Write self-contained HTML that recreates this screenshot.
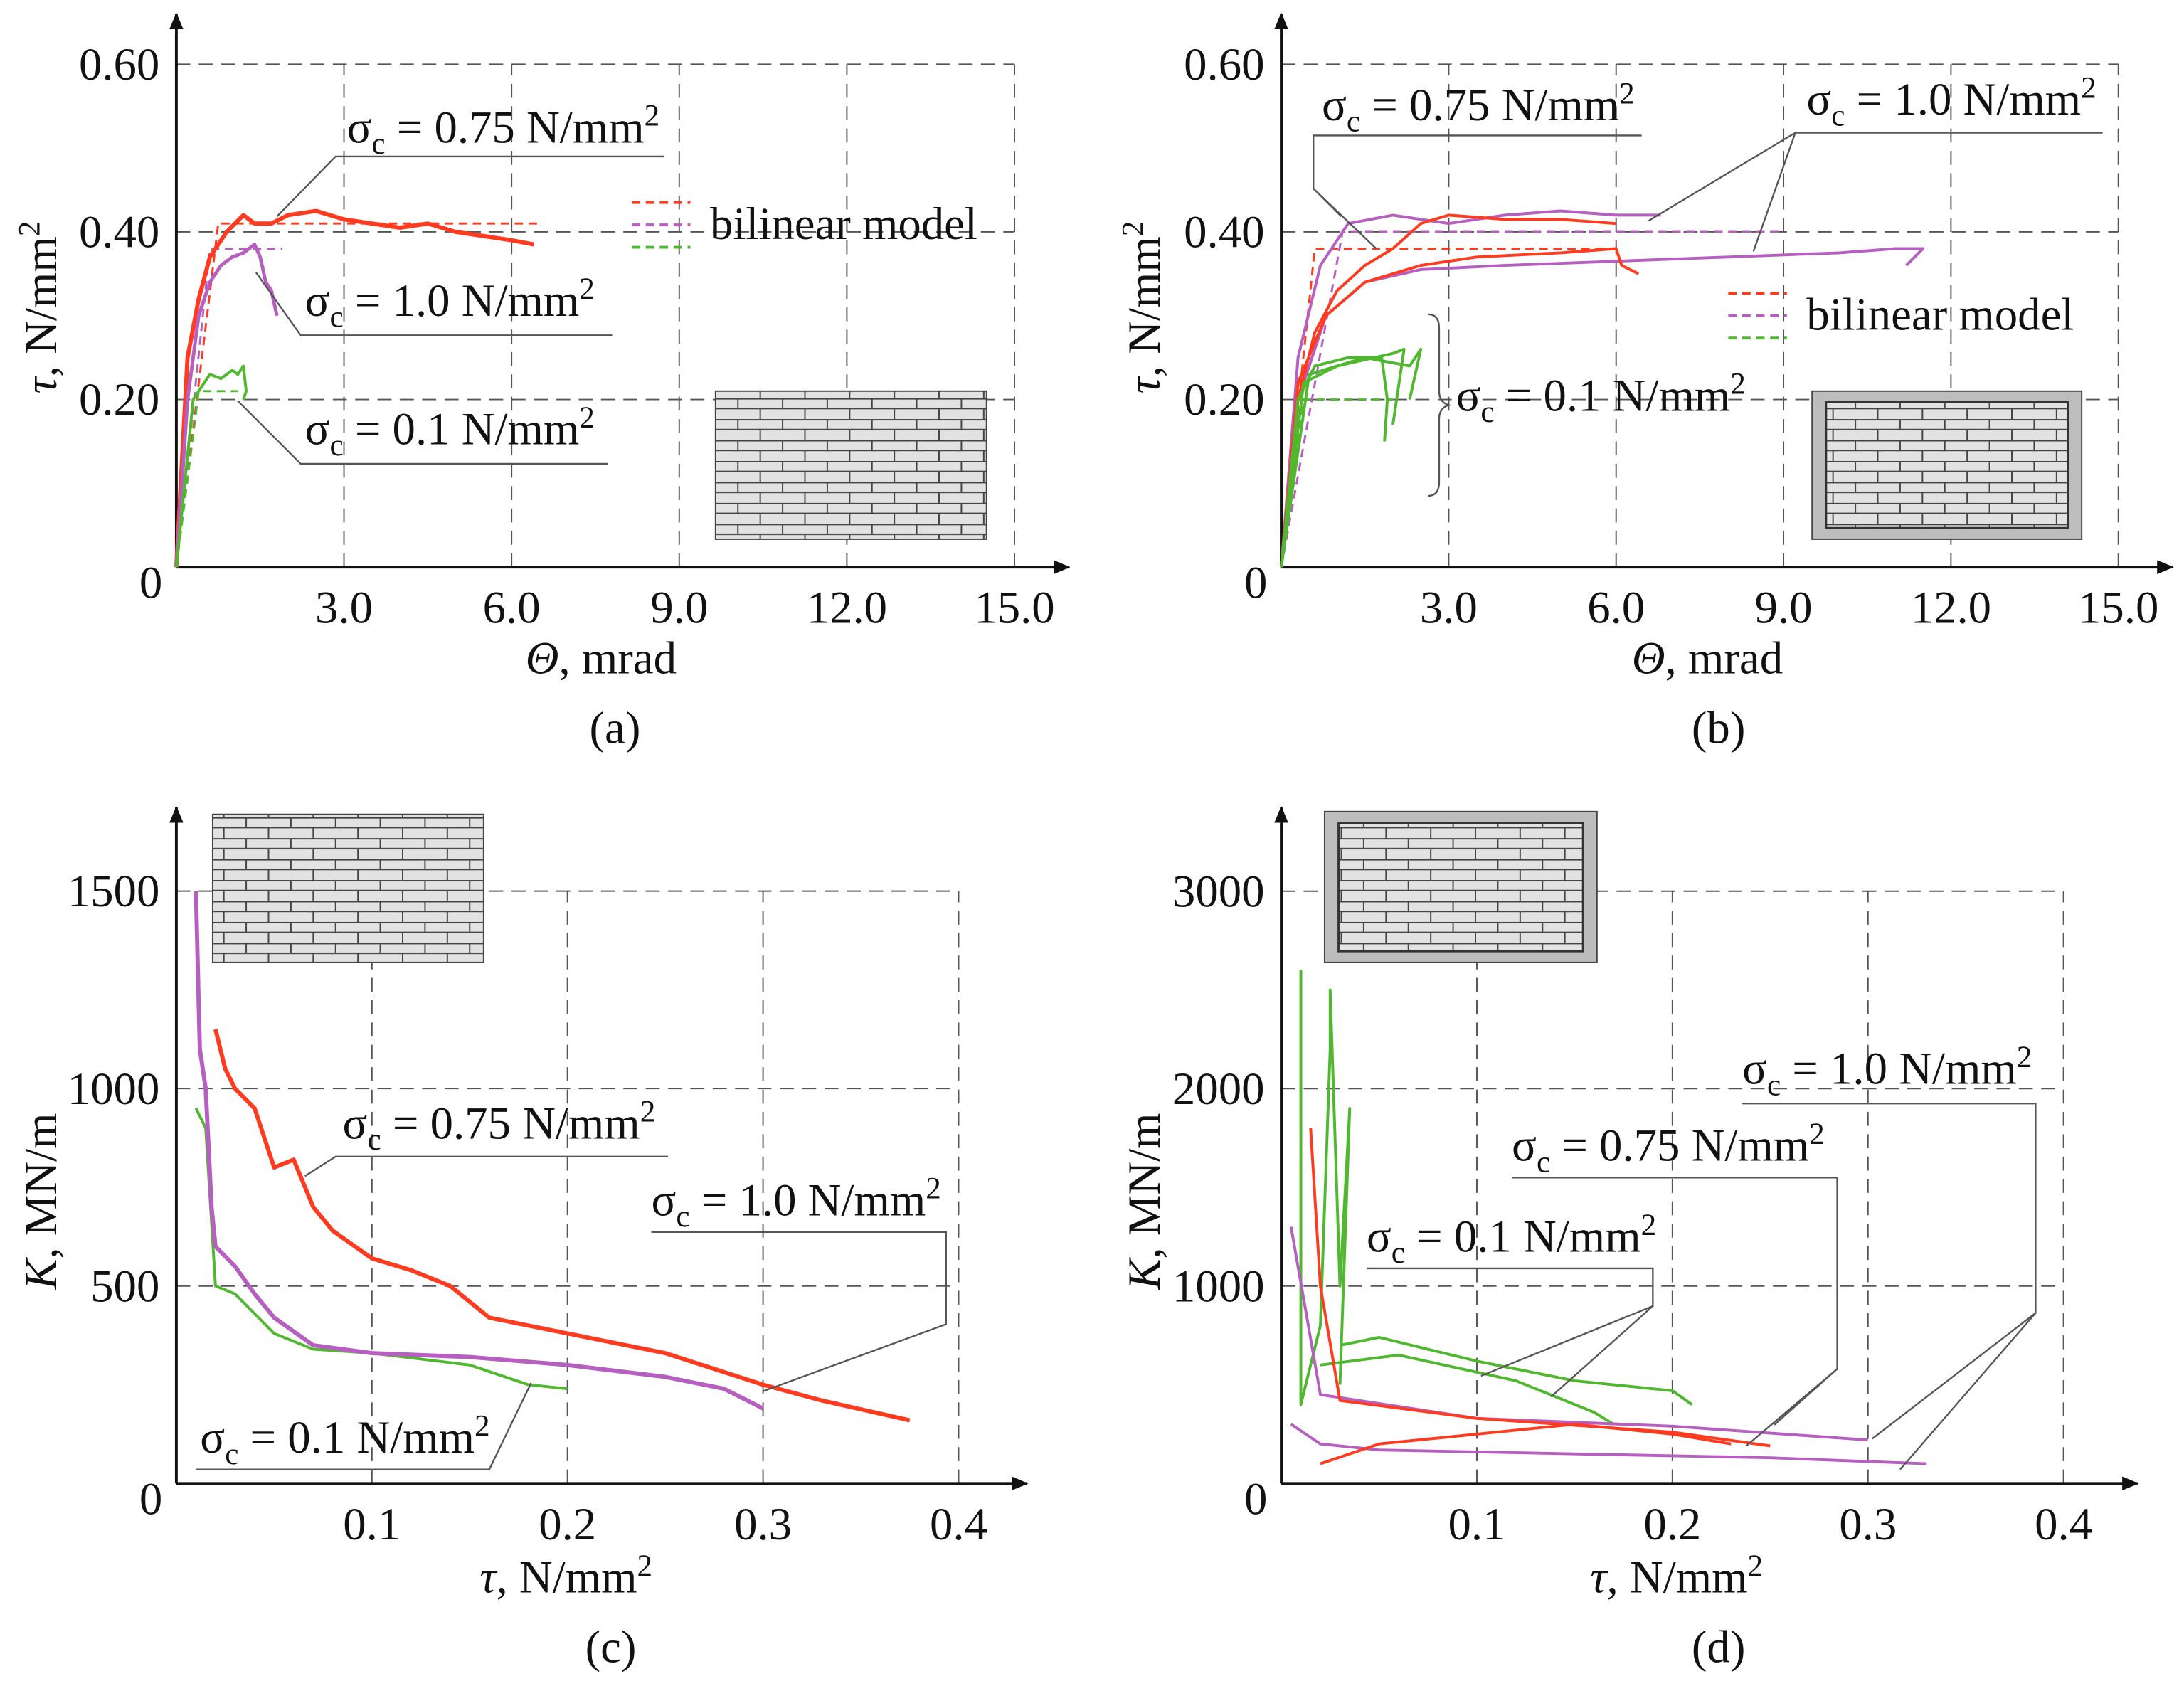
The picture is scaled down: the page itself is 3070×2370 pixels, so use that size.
<!DOCTYPE html>
<html><head><meta charset="utf-8">
<style>
html,body{margin:0;padding:0;background:#fff}
svg{display:block}
text{font-family:"Liberation Serif",serif;fill:#111}
</style></head>
<body>
<svg id="fig" width="3070" height="2370" viewBox="0 0 1563 1207" xmlns="http://www.w3.org/2000/svg">
<defs>
<pattern id="brick" width="32" height="15" patternUnits="userSpaceOnUse">
<rect width="32" height="15" fill="#e2e2e2"/>
<path d="M0 0.5H32M0 7.5H32M16 0V7.5M0 7.5V15M32 7.5V15" stroke="#444" stroke-width="1" fill="none"/>
</pattern>
<marker id="arr" markerWidth="12" markerHeight="10" refX="11" refY="5" orient="auto" markerUnits="userSpaceOnUse"><path d="M0 0L12 5L0 10Z" fill="#111"/></marker>
</defs>
<g id="root"></g>
</svg>
<script>
// ---- data arrays ----
const aXTicks=[3.0,6.0,9.0,12.0,15.0], aYTicks=[0.20,0.40,0.60];
const cXTicks=[0.1,0.2,0.3,0.4], cYTicks=[500,1000,1500], dYTicks=[1000,2000,3000];
const aRedTheta=[0,0.2,0.4,0.6,0.9,1.2,1.4,1.7,2.0,2.5,3.0,3.5,4.0,4.5,5.0,5.5,6.0,6.4];
const aRedTau=[0,0.25,0.32,0.37,0.40,0.42,0.41,0.41,0.42,0.425,0.415,0.41,0.405,0.41,0.40,0.395,0.39,0.385];
const aPurTheta=[0,0.2,0.4,0.6,0.8,1.0,1.2,1.4,1.5,1.6,1.7,1.8];
const aPurTau=[0,0.2,0.3,0.34,0.36,0.37,0.375,0.385,0.37,0.34,0.33,0.30];
const aGrnTheta=[0,0.3,0.5,0.6,0.8,1.0,1.1,1.2,1.25,1.2];
const aGrnTau=[0,0.2,0.22,0.23,0.225,0.235,0.23,0.24,0.21,0.2];
const aBiRed=[[0,0],[0.75,0.41],[6.5,0.41]], aBiPur=[[0,0],[0.6,0.38],[1.9,0.38]], aBiGrn=[[0,0],[0.4,0.21],[1.1,0.21]];
const bRed1=[[0,0],[0.3,0.2],[0.6,0.28],[1,0.33],[1.5,0.36],[2,0.38],[2.5,0.41],[3,0.42],[4,0.415],[5,0.415],[6,0.41]];
const bRed2=[[0,0],[0.3,0.22],[0.8,0.3],[1.5,0.34],[2.5,0.36],[3.5,0.37],[5,0.375],[6,0.38],[6.1,0.36],[6.4,0.35]];
const bPur1=[[0,0],[0.3,0.25],[0.7,0.36],[1.2,0.41],[2,0.42],[3,0.41],[4,0.42],[5,0.425],[6,0.42],[6.8,0.42]];
const bPur2=[[0,0],[0.3,0.2],[0.8,0.3],[1.5,0.34],[2.5,0.355],[4,0.36],[6,0.365],[8,0.37],[10,0.375],[11,0.38],[11.5,0.38],[11.2,0.36]];
const bGrn1=[[0,0],[0.3,0.2],[0.6,0.24],[1.2,0.25],[1.8,0.25],[1.9,0.2],[1.85,0.15]];
const bGrn2=[[0,0],[0.4,0.22],[1,0.24],[2,0.255],[2.2,0.26],[2.0,0.17]];
const bGrn3=[[0,0],[0.5,0.23],[1.5,0.25],[2.3,0.24],[2.5,0.26],[2.3,0.2]];
const bBiRed=[[0,0],[0.6,0.38],[6,0.38]], bBiPur=[[0,0],[1.1,0.40],[9,0.40]], bBiGrn=[[0,0],[0.4,0.20],[2,0.20]];
const cPur=[[0.01,1500],[0.012,1100],[0.015,1000],[0.018,700],[0.02,600],[0.03,550],[0.04,480],[0.05,420],[0.07,350],[0.1,330],[0.15,320],[0.2,300],[0.25,270],[0.28,240],[0.3,190]];
const cRed=[[0.02,1150],[0.025,1050],[0.03,1000],[0.04,950],[0.05,800],[0.06,820],[0.07,700],[0.08,640],[0.1,570],[0.12,540],[0.14,500],[0.16,420],[0.2,380],[0.25,330],[0.3,250],[0.33,210],[0.375,160]];
const cGrn=[[0.01,950],[0.015,900],[0.02,500],[0.03,480],[0.05,380],[0.07,340],[0.1,330],[0.15,300],[0.18,250],[0.2,240]];
const dGrn1=[[0.01,2600],[0.01,400],[0.02,800],[0.025,2200],[0.025,2500],[0.03,1000],[0.035,1900],[0.03,500]];
const dGrn2=[[0.03,700],[0.05,740],[0.1,620],[0.15,520],[0.2,470],[0.21,400]];
const dGrn3=[[0.02,600],[0.06,650],[0.12,520],[0.16,360],[0.17,300]];
const dRed1=[[0.015,1800],[0.02,1000],[0.03,420],[0.1,330],[0.2,260],[0.25,190]];
const dRed2=[[0.02,100],[0.05,200],[0.1,250],[0.15,300],[0.2,250],[0.23,200]];
const dPur1=[[0.005,1300],[0.02,450],[0.1,330],[0.2,290],[0.3,220]];
const dPur2=[[0.005,300],[0.02,200],[0.05,170],[0.15,150],[0.25,130],[0.33,100]];

const NS="http://www.w3.org/2000/svg", root=document.getElementById('root');
const FS=33;
function el(tag,attrs,txt){const e=document.createElementNS(NS,tag);for(const k in attrs)e.setAttribute(k,attrs[k]);if(txt!==undefined)e.textContent=txt;root.appendChild(e);return e;}
const RED="#ff3b1f",PUR="#b65fc0",GRN="#4fb82f";
function panel(ox,oy,xs,ys,xmax,ymax,xArrow,yArrow){
  const X=v=>ox+v*xs,Y=v=>oy-v*ys;
  return {X,Y,ox,oy,xmax,ymax,xArrow,yArrow};
}
function axes(p,xt,yt,xfmt,yfmt,name){
  for(const t of xt){const l=el('line',{x1:p.X(t),x2:p.X(t),y1:p.oy,y2:p.Y(p.ymax),stroke:'#555','stroke-dasharray':'10 6','stroke-width':1});
    
    const tx=el('text',{x:p.X(t),y:p.oy+40,'font-size':FS,'text-anchor':'middle'},xfmt(t));
    }
  for(const t of yt){const l=el('line',{x1:p.ox,x2:p.X(p.xmax),y1:p.Y(t),y2:p.Y(t),stroke:'#555','stroke-dasharray':'10 6','stroke-width':1});
    
    const tx=el('text',{x:p.ox-12,y:p.Y(t)+11,'font-size':FS,'text-anchor':'end'},yfmt(t));
    }
  const a1=el('line',{x1:p.ox,y1:p.oy,x2:p.xArrow,y2:p.oy,stroke:'#111','stroke-width':2,'marker-end':'url(#arr)'});
  
  const a2=el('line',{x1:p.ox,y1:p.oy,x2:p.ox,y2:p.yArrow,stroke:'#111','stroke-width':2,'marker-end':'url(#arr)'});
  
  const z=el('text',{x:p.ox-10,y:p.oy+22,'font-size':FS,'text-anchor':'end'},'0');
  
}
function series(p,pts,col,w,name,dash){
  const d=pts.map((q,i)=>(i?'L':'M')+p.X(q[0]).toFixed(1)+' '+p.Y(q[1]).toFixed(1)).join('');
  const a={d:d,fill:'none',stroke:col,'stroke-width':w,'stroke-linejoin':'round'};if(dash)a['stroke-dasharray']=dash;
  const e=el('path',a);
}
function zip(a,b){return a.map((v,i)=>[v,b[i]]);}
function sig(x,y,val,name){
  const t=el('text',{x:x,y:y,'font-size':FS});
  
  t.innerHTML='σ<tspan font-size="22" dy="8">c</tspan><tspan dy="-8"> = '+val+' N/mm</tspan><tspan font-size="22" dy="-12">2</tspan>';
}
function ln(pts,name){const e=el('polyline',{points:pts.map(q=>q.join(',')).join(' '),fill:'none',stroke:'#555','stroke-width':1.2});
  }
function txt(x,y,s,name,extra){const t=el('text',Object.assign({x:x,y:y,'font-size':FS},extra||{}),s);return t;}
function ylabel(x,y,sym,name){const t=el('text',{x:0,y:0,'font-size':FS,transform:`translate(${x},${y}) rotate(-90)`,'text-anchor':'middle'});
  
  t.innerHTML='<tspan font-style="italic">'+sym+'</tspan>,  '+(sym==='τ'?'N/mm<tspan font-size="22" dy="-12">2</tspan>':'MN/m');}
function xlabel(x,y,sym,unit,name){const t=el('text',{x:x,y:y,'font-size':FS,'text-anchor':'middle'});
  
  t.innerHTML='<tspan font-style="italic">'+sym+'</tspan>,  '+unit;}
function brick(x,y,w,h,framed,name){
  if(framed){const f=el('rect',{x:x,y:y,width:w,height:h,fill:'#bdbdbd',stroke:'#444','stroke-width':1});
    const r=el('rect',{x:x+10,y:y+8,width:w-20,height:h-16,fill:'url(#brick)',stroke:'#333','stroke-width':1.5});}
  else{const r=el('rect',{x:x,y:y,width:w,height:h,fill:'url(#brick)',stroke:'#444','stroke-width':1});}
}
function legend(x,y,name){[RED,PUR,GRN].forEach((c,i)=>{const l=el('line',{x1:x,x2:x+42,y1:y+i*16,y2:y+i*16,stroke:c,'stroke-width':2,'stroke-dasharray':'6 4'});
  });
  txt(x+56,y+26,'bilinear model',name+'-label');}
const f1=v=>v.toFixed(1), f2=v=>v.toFixed(2), f0=v=>String(v);

// Panel a
const pa=panel(126,406,40,600,15,0.6,765,10);
axes(pa,aXTicks,aYTicks,f1,f2,'panel-a');
series(pa,aBiRed,RED,1.5,'a-bilinear-075','6 4');series(pa,aBiPur,PUR,1.5,'a-bilinear-10','6 4');series(pa,aBiGrn,GRN,1.5,'a-bilinear-01','6 4');
series(pa,zip(aRedTheta,aRedTau),RED,3,'a-series-075');series(pa,zip(aPurTheta,aPurTau),PUR,2.5,'a-series-10');series(pa,zip(aGrnTheta,aGrnTau),GRN,2,'a-series-01');
legend(452,145,'a-legend');
sig(248,102,'0.75','a-label-075');ln([[475,112],[240,112],[198,155]],'a-leader-075');
sig(218,226,'1.0','a-label-10');ln([[438,240],[215,240],[183,195]],'a-leader-10');
sig(218,318,'0.1','a-label-01');ln([[435,332],[215,332],[170,287]],'a-leader-01');
brick(512,280,194,106,false,'a-brick-icon');
ylabel(40,220,'τ','a-y-title');xlabel(430,482,'Θ','mrad','a-x-title');txt(440,532,'(a)','a-caption',{'text-anchor':'middle'});

// Panel b
const pb=panel(917,406,39.95,600,15,0.6,1555,10);
axes(pb,aXTicks,aYTicks,f1,f2,'panel-b');
series(pb,bBiRed,RED,1.5,'b-bilinear-075','6 4');series(pb,bBiPur,PUR,1.5,'b-bilinear-10','6 4');series(pb,bBiGrn,GRN,1.5,'b-bilinear-01','6 4');
series(pb,bPur2,PUR,2,'b-series-10-2');series(pb,bPur1,PUR,2,'b-series-10-1');series(pb,bRed2,RED,2,'b-series-075-2');series(pb,bRed1,RED,2,'b-series-075-1');
series(pb,bGrn1,GRN,2,'b-series-01-1');series(pb,bGrn2,GRN,2,'b-series-01-2');series(pb,bGrn3,GRN,2,'b-series-01-3');
legend(1237,210,'b-legend');
sig(946,86,'0.75','b-label-075');ln([[1175,97],[940,97],[940,135],[985,178]],'b-leader-075a');ln([[940,135],[960,155]],'b-leader-075b');
sig(1293,82,'1.0','b-label-10');ln([[1505,95],[1285,95],[1180,158]],'b-leader-10a');ln([[1285,95],[1255,180]],'b-leader-10b');
sig(1042,294,'0.1','b-label-01');
const br=el('path',{d:'M1022 225 Q1030 225 1030 235 V280 Q1030 288 1037 290 Q1030 292 1030 300 V345 Q1030 355 1022 355',fill:'none',stroke:'#555','stroke-width':1.2});

brick(1297,280,193,106,true,'b-brick-icon');
ylabel(830,220,'τ','b-y-title');xlabel(1222,482,'Θ','mrad','b-x-title');txt(1230,532,'(b)','b-caption',{'text-anchor':'middle'});

// Panel c
const pc=panel(126,1062,1400,0.2827,0.4,1500,735,578);
axes(pc,cXTicks,cYTicks,f1,f0,'panel-c');
series(pc,cGrn,GRN,2,'c-series-01');series(pc,cPur,PUR,3,'c-series-10');series(pc,cRed,RED,3,'c-series-075');
sig(245,815,'0.75','c-label-075');ln([[478,828],[240,828],[218,842]],'c-leader-075');
sig(466,870,'1.0','c-label-10');ln([[466,882],[677,882],[677,948],[546,996]],'c-leader-10');
sig(143,1040,'0.1','c-label-01');ln([[140,1052],[350,1052],[380,990]],'c-leader-01');
brick(152,583,194,106,false,'c-brick-icon');
ylabel(40,860,'K','c-y-title');xlabel(405,1140,'τ','N/mm<tspan font-size="22" dy="-12">2</tspan>','c-x-title');txt(437,1190,'(c)','c-caption',{'text-anchor':'middle'});

// Panel d
const pd=panel(917,1062,1400,0.14133,0.4,3000,1530,578);
axes(pd,cXTicks,dYTicks,f1,f0,'panel-d');
series(pd,dGrn1,GRN,2,'d-series-01-1');series(pd,dGrn2,GRN,2,'d-series-01-2');series(pd,dGrn3,GRN,2,'d-series-01-3');
series(pd,dPur1,PUR,2,'d-series-10-1');series(pd,dPur2,PUR,2,'d-series-10-2');
series(pd,dRed1,RED,2,'d-series-075-1');series(pd,dRed2,RED,2,'d-series-075-2');
sig(1247,776,'1.0','d-label-10');ln([[1247,790],[1457,790],[1457,940],[1340,1030]],'d-leader-10a');ln([[1457,940],[1360,1052]],'d-leader-10b');
sig(1082,831,'0.75','d-label-075');ln([[1082,843],[1315,843],[1315,980],[1270,1020]],'d-leader-075a');ln([[1315,980],[1250,1035]],'d-leader-075b');
sig(978,896,'0.1','d-label-01');ln([[978,908],[1183,908],[1183,935],[1060,985]],'d-leader-01a');ln([[1183,935],[1110,1000]],'d-leader-01b');
brick(948,581,195,108,true,'d-brick-icon');
ylabel(830,860,'K','d-y-title');xlabel(1200,1140,'τ','N/mm<tspan font-size="22" dy="-12">2</tspan>','d-x-title');txt(1230,1190,'(d)','d-caption',{'text-anchor':'middle'});
</script>
</body></html>
